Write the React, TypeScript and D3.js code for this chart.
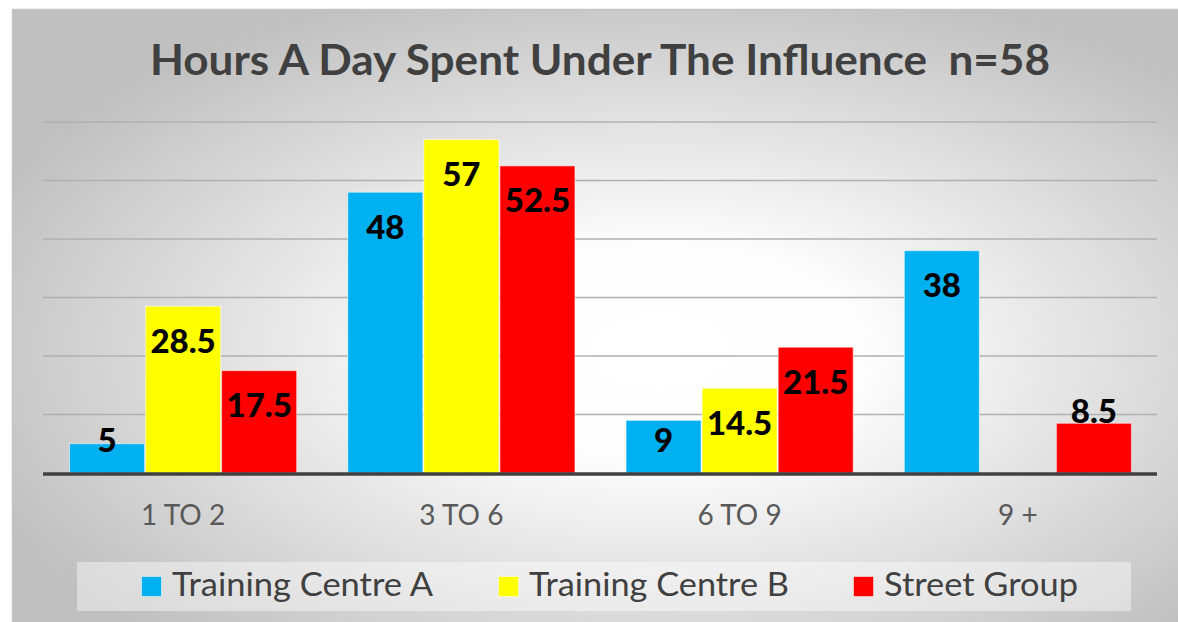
import React from "react";
import * as d3 from "d3";

const categories = ["1 TO 2", "3 TO 6", "6 TO 9", "9 +"];
const seriesNames = ["Training Centre A", "Training Centre B", "Street Group"];
const trainingCentreA = [5, 48, 9, 38];
const trainingCentreB = [28.5, 57, 14.5, 0];
const streetGroup = [17.5, 52.5, 21.5, 8.5];
const yTicks = [0, 10, 20, 30, 40, 50, 60];
const titleText = "Hours A Day Spent Under The Influence  n=58";

const seriesValues = [trainingCentreA, trainingCentreB, streetGroup];
const colors = ["#00B0F0", "#FFFF00", "#FF0000"];
const outsideLabels = new Set(["Street Group|9 +"]);

const W = 1178;
const H = 622;

export default function App() {
  const x0 = d3.scaleBand().domain(categories).range([44, 1157]).paddingInner(0.18).paddingOuter(0.09);
  const x1 = d3.scaleBand().domain(seriesNames).range([0, x0.bandwidth()]).padding(0);
  const y = d3.scaleLinear().domain([0, 60]).range([473, 122]);

  const legendX = [141, 498, 853];
  const legendW = [261, 260, 194];

  return (
    <svg width={W} height={H} style={{ position: "absolute", left: 0, top: 0 }} xmlns="http://www.w3.org/2000/svg">
      <defs>
        <radialGradient id="bg" cx="0.55" cy="0.55" r="0.62" fx="0.55" fy="0.55">
          <stop offset="0" stopColor="#ffffff" />
          <stop offset="0.28" stopColor="#fdfdfd" />
          <stop offset="1" stopColor="#c0c0c0" />
        </radialGradient>
      </defs>
      <rect x={0} y={0} width={W} height={H} fill="#ffffff" />
      <rect x={12.5} y={9.5} width={W} height={H} fill="url(#bg)" stroke="#c4c4c4" strokeWidth={1.5} />

      <text x={600} y={75} textAnchor="middle" fontFamily="Lato, 'Open Sans', sans-serif" fontWeight="bold" fontSize={42} fill="#404040" textLength={900} lengthAdjust="spacingAndGlyphs" style={{ whiteSpace: "pre" }}>
        {titleText}
      </text>

      {yTicks.slice(1).map((t) => (
        <line key={t} x1={43} x2={1157} y1={y(t)} y2={y(t)} stroke="#b0b0b0" strokeWidth={1.5} />
      ))}

      {categories.map((c, ci) => (
        <g key={c} transform={`translate(${x0(c)},0)`}>
          {seriesNames.map((s, si) => {
            const v = seriesValues[si][ci];
            if (!v) return null;
            const bx = x1(s)!;
            const top = y(v);
            return (
              <rect key={s} x={bx + 0.5} y={top} width={x1.bandwidth() - 1} height={y(0) - top} fill={colors[si]} stroke="#ffffff" strokeOpacity={0.55} strokeWidth={1} />
            );
          })}
        </g>
      ))}

      <line x1={43} x2={1157} y1={y(0) + 1} y2={y(0) + 1} stroke="#404040" strokeWidth={3.5} />

      {categories.map((c, ci) => (
        <g key={c + "l"} transform={`translate(${x0(c)},0)`}>
          {seriesNames.map((s, si) => {
            const v = seriesValues[si][ci];
            if (!v) return null;
            const cx = x1(s)! + x1.bandwidth() / 2;
            const top = y(v);
            const base = outsideLabels.has(`${s}|${c}`) ? top : Math.min(top + 46.5, 452);
            return (
              <text key={s} x={cx} y={base} textAnchor="middle" fontFamily="Lato, 'Open Sans', sans-serif" fontWeight="900" fontSize={33} fill="#000000">
                {String(v)}
              </text>
            );
          })}
        </g>
      ))}

      {categories.map((c) => (
        <text key={c + "t"} x={x0(c)! + x0.bandwidth() / 2} y={525} textAnchor="middle" fontFamily="Lato, 'Open Sans', sans-serif" fontSize={28} fill="#595959" style={{ whiteSpace: "pre" }}>
          {c}
        </text>
      ))}

      <rect x={77} y={562} width={1054} height={49} fill="#ffffff" fillOpacity={0.42} />
      {seriesNames.map((s, i) => (
        <g key={s + "lg"}>
          <rect x={legendX[i] + 0.5} y={576.5} width={20} height={20} fill={colors[i]} stroke="#ffffff" strokeOpacity={0.5} strokeWidth={1} />
          <text x={legendX[i] + 31} y={596} fontFamily="Lato, 'Open Sans', sans-serif" fontSize={33} fill="#404040" textLength={legendW[i]} lengthAdjust="spacingAndGlyphs">
            {s}
          </text>
        </g>
      ))}
    </svg>
  );
}
